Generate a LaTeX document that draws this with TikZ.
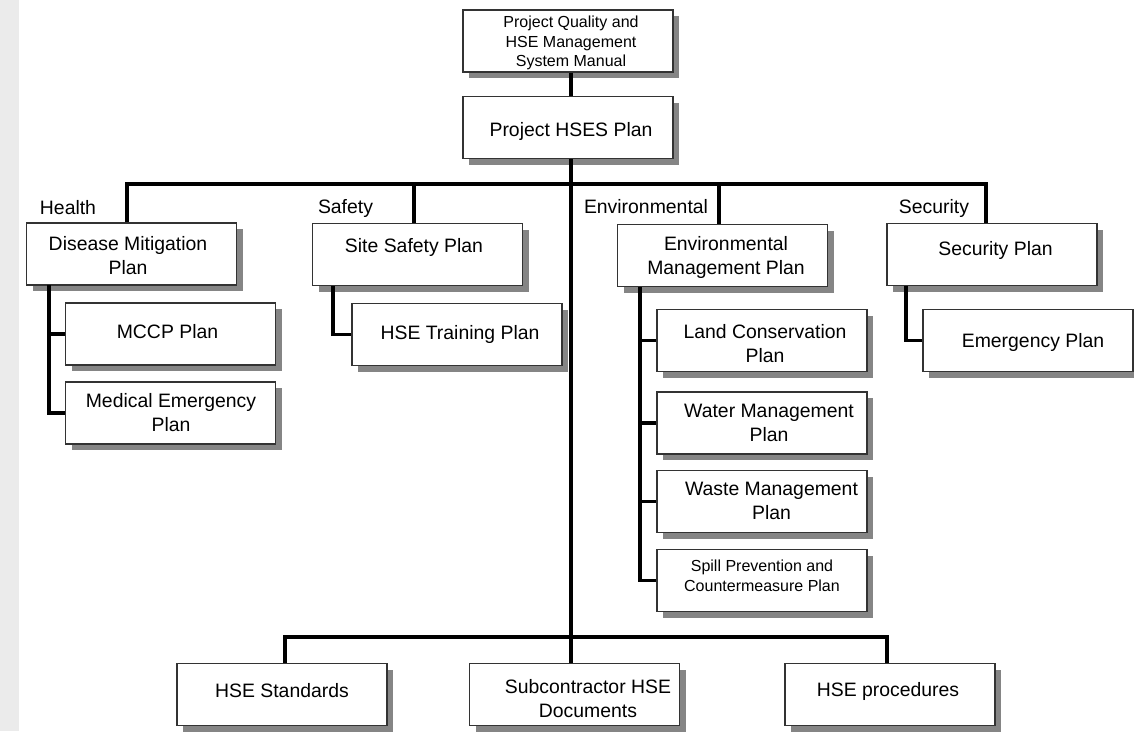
\documentclass[tikz,border=0pt]{standalone}
\usepackage{fontspec}
\setmainfont{Liberation Sans}
\usetikzlibrary{shadows,calc}
\begin{document}
\begin{tikzpicture}[x=1pt,y=-1pt,
  box/.style={draw=black!80, line width=1.2pt, fill=white,
    minimum width=210pt, minimum height=62pt, inner sep=0pt,
    drop shadow={shadow xshift=6pt, shadow yshift=-6pt, opacity=1, fill=black!48}},
  txt/.style={align=center, inner sep=0pt, font=\fontsize{19.4}{24}\selectfont},
  smalltxt/.style={align=center, inner sep=0pt, font=\fontsize{16}{19.5}\selectfont},
  conn/.style={line width=3.4pt, draw=black}]
\useasboundingbox (0,0) rectangle (1134,731);
% faint strip along the left margin
\fill[black!8] (0,0) rectangle (19,731);

% ---- boxes ----
\node[box] (qm)    at (568,41)    {};
\node[box] (hses)  at (568,127.5) {};
\node[box] (dis)   at (131.5,254) {};
\node[box] (mccp)  at (170.5,334) {};
\node[box] (med)   at (170.5,413) {};
\node[box] (site)  at (417.5,254.5) {};
\node[box] (train) at (457,334.5) {};
\node[box] (env)   at (722.5,255.5) {};
\node[box] (land)  at (762,340.5) {};
\node[box] (water) at (762,423)   {};
\node[box] (waste) at (762,501.5) {};
\node[box] (spill) at (762,580.5) {};
\node[box] (secp)  at (992,254.5) {};
\node[box] (emerg) at (1028,340.5) {};
\node[box] (std)   at (282,694.5) {};
\node[box] (sub)   at (574.5,694.5) {};
\node[box] (proc)  at (890,694.5) {};

% ---- box texts ----
\node[smalltxt] (tqm)    at (571,43)    {Project Quality and\\HSE Management\\System Manual};
\node[txt] (thses)  at (571,131)   {Project HSES Plan};
\node[txt] (tdis)   at (128,256)   {Disease Mitigation\\Plan};
\node[txt] (tmccp)  at (167.5,332) {MCCP Plan};
\node[txt] (tmed)   at (171,412.5) {Medical Emergency\\Plan};
\node[txt] (tsite)  at (414,247)   {Site Safety Plan};
\node[txt] (ttrain) at (460,334)   {HSE Training Plan};
\node[txt] (tenv)   at (726,257.5) {Environmental\\Management Plan};
\node[txt] (tland)  at (765,344)   {Land Conservation\\Plan};
\node[txt] (twater) at (769,422.5) {Water Management\\Plan};
\node[txt] (twaste) at (771.5,501) {Waste Management\\Plan};
\node[smalltxt] (tspill) at (762,576) {Spill Prevention and\\Countermeasure Plan};
\node[txt] (tsecp)  at (995.5,250) {Security Plan};
\node[txt] (temerg) at (1033,342)  {Emergency Plan};
\node[txt] (tstd)   at (282,691)   {HSE Standards};
\node[txt] (tsub)   at (588,698.5) {Subcontractor HSE\\Documents};
\node[txt] (tproc)  at (888,691)   {HSE procedures};

% ---- group labels ----
\node[txt] (lhealth) at (68,208)   {Health};
\node[txt] (lsafety) at (345.5,208) {Safety};
\node[txt] (lenv)    at (646,207)  {Environmental};
\node[txt] (lsec)    at (934,208)  {Security};

% ---- connectors ----
\coordinate (bt) at (571,184);
\coordinate (bb) at (571,637);
\draw[conn] ([xshift=3pt]qm.south) -- ([xshift=3pt]hses.north);
\draw[conn] ([xshift=-4.5pt]dis.north) |- (bt) -| ([xshift=-6pt]secp.north);
\draw[conn] ([xshift=-3.5pt]site.north) -- ([xshift=-3.5pt]site.north |- bt);
\draw[conn] ([xshift=-3.5pt]env.north) -- ([xshift=-3.5pt]env.north |- bt);
\draw[conn] (hses.south -| bt) -- (sub.north -| bt);
\draw[conn] ([xshift=3pt]std.north) |- (bb) -| ([xshift=-3pt]proc.north);

\coordinate (hx) at (49,285);
\draw[conn] (hx) |- (med.west);
\draw[conn] (hx |- mccp.west) -- (mccp.west);

\coordinate (sx) at (333,286);
\draw[conn] (sx) |- (train.west);

\coordinate (ex) at (640,287);
\draw[conn] (ex) |- (spill.west);
\draw[conn] (ex |- land.west) -- (land.west);
\draw[conn] (ex |- water.west) -- (water.west);
\draw[conn] (ex |- waste.west) -- (waste.west);

\coordinate (qx) at (906,286);
\draw[conn] (qx) |- (emerg.west);
\end{tikzpicture}
\end{document}
